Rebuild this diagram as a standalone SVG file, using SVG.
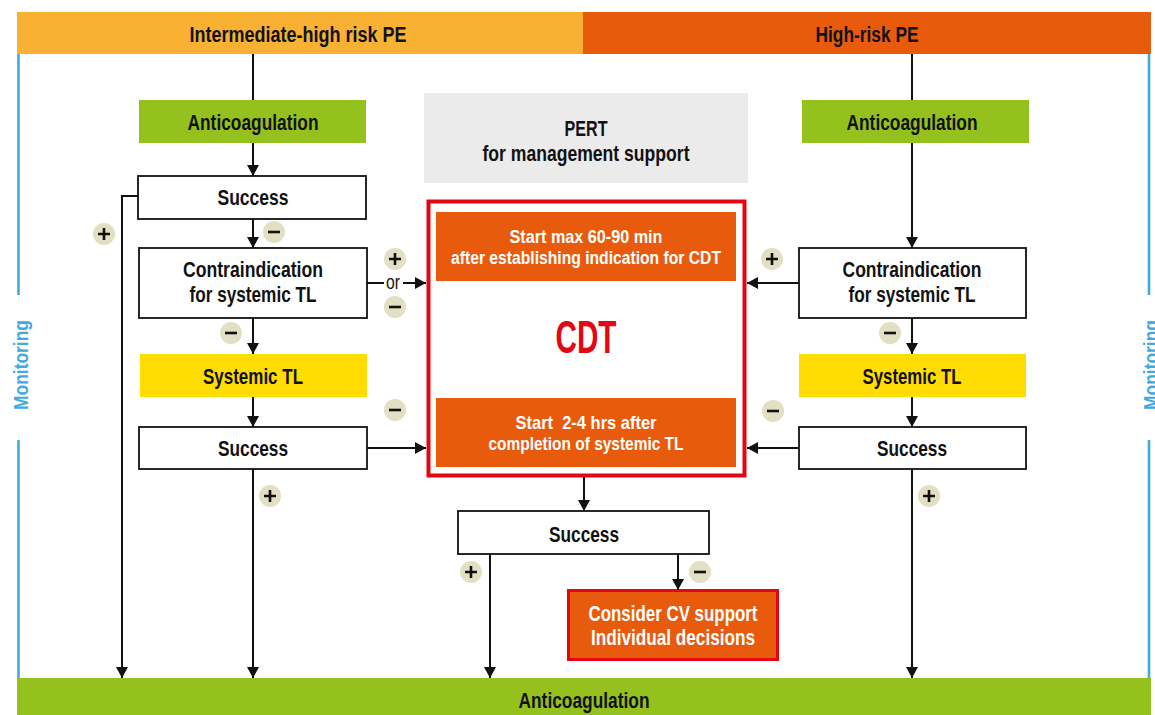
<svg xmlns="http://www.w3.org/2000/svg" width="1155" height="715" viewBox="0 0 1155 715">
<style>
text{font-family:"Liberation Sans Narrow","Liberation Sans",Arial,sans-serif;font-weight:bold;font-size:22px;text-anchor:middle;fill:#111}
.w{fill:#fff}
.s{font-size:19px}
.big{font-size:47px;fill:#E30613}
.box{fill:#fff;stroke:#111;stroke-width:1.8}
.green{fill:#95C11F}
.yellow{fill:#FFDD00}
.orange{fill:#E95B0C}
.conn path{fill:none;stroke:#111;stroke-width:2}
.sign circle{fill:#E3DFC3}
.sign path{stroke:#111;stroke-width:2.6;fill:none}
.mon{fill:#3FA9E0;font-size:21px}
.blue{stroke:#3FA9E0;stroke-width:2.6}
.or{font-weight:normal;font-size:21px}
</style>
<defs>
<marker id="ah" markerUnits="userSpaceOnUse" markerWidth="12" markerHeight="12" refX="11" refY="6" orient="auto">
<path d="M0,0 L11,6 L0,12 z" fill="#111"/>
</marker>
</defs>
<rect width="1155" height="715" fill="#fff"/>

<g id="monitoring">
<line class="blue" x1="18.5" y1="54" x2="18.5" y2="295"/>
<line class="blue" x1="18.5" y1="440" x2="18.5" y2="678"/>
<line class="blue" x1="1149" y1="54" x2="1149" y2="295"/>
<line class="blue" x1="1149" y1="440" x2="1149" y2="678"/>
<text class="mon" transform="translate(28,365) rotate(-90)" textLength="90" lengthAdjust="spacingAndGlyphs">Monitoring</text>
<text class="mon" transform="translate(1158,365) rotate(-90)" textLength="90" lengthAdjust="spacingAndGlyphs">Monitoring</text>
</g>

<g id="header-intermediate">
<rect x="17" y="12" width="566" height="42" fill="#F8B133"/>
<text x="298" y="42" textLength="217" lengthAdjust="spacingAndGlyphs">Intermediate-high risk PE</text>
</g>
<g id="header-high">
<rect x="583" y="12" width="568" height="42" class="orange"/>
<text x="867" y="42" textLength="103" lengthAdjust="spacingAndGlyphs">High-risk PE</text>
</g>
<g id="bottom-anticoagulation">
<rect x="17" y="678" width="1134" height="37" class="green"/>
<text x="584" y="708" textLength="131" lengthAdjust="spacingAndGlyphs">Anticoagulation</text>
</g>

<g id="left-anticoag">
<rect x="139" y="100" width="227" height="43" class="green"/>
<text x="253" y="130" textLength="131" lengthAdjust="spacingAndGlyphs">Anticoagulation</text>
</g>
<g id="left-success1">
<rect x="138" y="176" width="228" height="43" class="box"/>
<text x="253" y="205" textLength="71" lengthAdjust="spacingAndGlyphs">Success</text>
</g>
<g id="left-contra">
<rect x="139" y="248" width="228" height="70" class="box"/>
<text x="253" y="277" textLength="140" lengthAdjust="spacingAndGlyphs">Contraindication</text>
<text x="253" y="302" textLength="127" lengthAdjust="spacingAndGlyphs">for systemic TL</text>
</g>
<g id="left-systl">
<rect x="140" y="354" width="227" height="43" class="yellow"/>
<text x="253" y="384" textLength="100" lengthAdjust="spacingAndGlyphs">Systemic TL</text>
</g>
<g id="left-success2">
<rect x="139" y="427" width="228" height="42" class="box"/>
<text x="253" y="456" textLength="70" lengthAdjust="spacingAndGlyphs">Success</text>
</g>

<g id="right-anticoag">
<rect x="802" y="100" width="227" height="43" class="green"/>
<text x="912" y="130" textLength="131" lengthAdjust="spacingAndGlyphs">Anticoagulation</text>
</g>
<g id="right-contra">
<rect x="799" y="248" width="227" height="70" class="box"/>
<text x="912" y="277" textLength="139" lengthAdjust="spacingAndGlyphs">Contraindication</text>
<text x="912" y="302" textLength="127" lengthAdjust="spacingAndGlyphs">for systemic TL</text>
</g>
<g id="right-systl">
<rect x="799" y="354" width="227" height="43" class="yellow"/>
<text x="912" y="384" textLength="99" lengthAdjust="spacingAndGlyphs">Systemic TL</text>
</g>
<g id="right-success">
<rect x="799" y="427" width="227" height="42" class="box"/>
<text x="912" y="456" textLength="70" lengthAdjust="spacingAndGlyphs">Success</text>
</g>

<g id="pert">
<rect x="424" y="93" width="324" height="90" fill="#EBEBEB"/>
<text x="586" y="136" textLength="43" lengthAdjust="spacingAndGlyphs">PERT</text>
<text x="586" y="161" textLength="207" lengthAdjust="spacingAndGlyphs">for management support</text>
</g>

<g id="cdt">
<rect x="428.5" y="201.5" width="316" height="274" fill="#fff" stroke="#E30613" stroke-width="4"/>
<rect x="436" y="212" width="300" height="69" class="orange"/>
<text class="w s" x="586" y="243" textLength="153" lengthAdjust="spacingAndGlyphs">Start max 60-90 min</text>
<text class="w s" x="586" y="264" textLength="270" lengthAdjust="spacingAndGlyphs">after establishing indication for CDT</text>
<text class="big" x="586" y="353" textLength="61" lengthAdjust="spacingAndGlyphs">CDT</text>
<rect x="436" y="398" width="300" height="69" class="orange"/>
<text class="w s" x="586" y="429" textLength="141" lengthAdjust="spacingAndGlyphs" xml:space="preserve">Start  2-4 hrs after</text>
<text class="w s" x="586" y="450" textLength="195" lengthAdjust="spacingAndGlyphs">completion of systemic TL</text>
</g>

<g id="center-success">
<rect x="458" y="511" width="251" height="43" class="box"/>
<text x="584" y="542" textLength="70" lengthAdjust="spacingAndGlyphs">Success</text>
</g>
<g id="cv-support">
<rect x="568.5" y="590.5" width="209" height="69" class="orange" stroke="#E30613" stroke-width="3"/>
<text class="w" x="673" y="621" textLength="169" lengthAdjust="spacingAndGlyphs">Consider CV support</text>
<text class="w" x="673" y="645" textLength="164" lengthAdjust="spacingAndGlyphs">Individual decisions</text>
</g>

<g id="connectors" class="conn">
<path d="M253,54 V100"/>
<path d="M253,143 V176" marker-end="url(#ah)"/>
<path d="M138,196 H122 V678" marker-end="url(#ah)"/>
<path d="M253,219 V248" marker-end="url(#ah)"/>
<path d="M253,318 V354" marker-end="url(#ah)"/>
<path d="M253,397 V427" marker-end="url(#ah)"/>
<path d="M253,469 V678" marker-end="url(#ah)"/>
<path d="M367,283 H384"/>
<path d="M403,283 H426" marker-end="url(#ah)"/>
<path d="M367,448 H426" marker-end="url(#ah)"/>
<path d="M912,54 V100"/>
<path d="M912,143 V248" marker-end="url(#ah)"/>
<path d="M799,283 H747" marker-end="url(#ah)"/>
<path d="M912,318 V354" marker-end="url(#ah)"/>
<path d="M912,397 V427" marker-end="url(#ah)"/>
<path d="M799,448 H747" marker-end="url(#ah)"/>
<path d="M912,469 V678" marker-end="url(#ah)"/>
<path d="M584,477 V511" marker-end="url(#ah)"/>
<path d="M490,554 V678" marker-end="url(#ah)"/>
<path d="M678,554 V590" marker-end="url(#ah)"/>
<text class="or" x="393" y="289" textLength="14" lengthAdjust="spacingAndGlyphs">or</text>
</g>

<g id="signs" class="sign">
<g transform="translate(104,234)"><circle r="11"/><path d="M-6,0 H6 M0,-6 V6"/></g>
<g transform="translate(274,232)"><circle r="11"/><path d="M-6,0 H6"/></g>
<g transform="translate(395,259)"><circle r="11"/><path d="M-6,0 H6 M0,-6 V6"/></g>
<g transform="translate(395,307)"><circle r="11"/><path d="M-6,0 H6"/></g>
<g transform="translate(231,333)"><circle r="11"/><path d="M-6,0 H6"/></g>
<g transform="translate(395,410)"><circle r="11"/><path d="M-6,0 H6"/></g>
<g transform="translate(772,259)"><circle r="11"/><path d="M-6,0 H6 M0,-6 V6"/></g>
<g transform="translate(890,333)"><circle r="11"/><path d="M-6,0 H6"/></g>
<g transform="translate(773,411)"><circle r="11"/><path d="M-6,0 H6"/></g>
<g transform="translate(270,496)"><circle r="11"/><path d="M-6,0 H6 M0,-6 V6"/></g>
<g transform="translate(929,496)"><circle r="11"/><path d="M-6,0 H6 M0,-6 V6"/></g>
<g transform="translate(471,572)"><circle r="11"/><path d="M-6,0 H6 M0,-6 V6"/></g>
<g transform="translate(700,572)"><circle r="11"/><path d="M-6,0 H6"/></g>
</g>
</svg>
